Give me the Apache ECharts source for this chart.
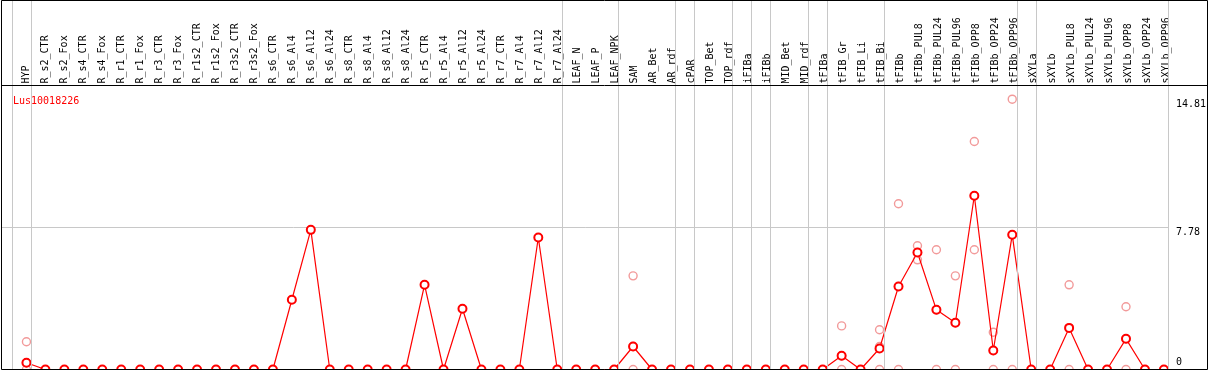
<!DOCTYPE html>
<html>
<head>
<meta charset="utf-8">
<script src="https://cdn.jsdelivr.net/npm/echarts@6/dist/echarts.min.js"></script>
<style>
html, body { margin: 0; padding: 0; background: #fff; }
#main { width: 1209px; height: 370px; }
</style>
</head>
<body>
<div id="main"></div>
<script>
// sample names (header, rotated)
var categories = ['HYP', 'R_s2_CTR', 'R_s2_Fox', 'R_s4_CTR', 'R_s4_Fox', 'R_r1_CTR', 'R_r1_Fox', 'R_r3_CTR', 'R_r3_Fox',
    'R_r1s2_CTR', 'R_r1s2_Fox', 'R_r3s2_CTR', 'R_r3s2_Fox', 'R_s6_CTR', 'R_s6_Al4', 'R_s6_Al12', 'R_s6_Al24',
    'R_s8_CTR', 'R_s8_Al4', 'R_s8_Al12', 'R_s8_Al24', 'R_r5_CTR', 'R_r5_Al4', 'R_r5_Al12', 'R_r5_Al24',
    'R_r7_CTR', 'R_r7_Al4', 'R_r7_Al12', 'R_r7_Al24', 'LEAF_N', 'LEAF_P', 'LEAF_NPK', 'SAM', 'AR_Bet', 'AR_rdf',
    'cPAR', 'TOP_Bet', 'TOP_rdf', 'iFIBa', 'iFIBb', 'MID_Bet', 'MID_rdf', 'tFIBa', 'tFIB_Gr', 'tFIB_Li', 'tFIB_Bi',
    'tFIBb', 'tFIBb_PUL8', 'tFIBb_PUL24', 'tFIBb_PUL96', 'tFIBb_OPP8', 'tFIBb_OPP24', 'tFIBb_OPP96',
    'sXYLa', 'sXYLb', 'sXYLb_PUL8', 'sXYLb_PUL24', 'sXYLb_PUL96', 'sXYLb_OPP8', 'sXYLb_OPP24', 'sXYLb_OPP96'];

// median expression (red line)
var median = [0.37, 0, 0, 0, 0, 0, 0, 0, 0, 0, 0, 0, 0, 0, 3.82, 7.65, 0,
    0, 0, 0, 0, 4.64, 0, 3.33, 0, 0, 0, 7.23, 0, 0, 0, 0, 1.26, 0, 0,
    0, 0, 0, 0, 0, 0, 0, 0, 0.75, 0, 1.15,
    4.55, 6.41, 3.27, 2.56, 9.52, 1.04, 7.38,
    0, 0, 2.28, 0, 0, 1.68, 0, 0];

// replicates (pale circles), null = none
var rep1 = [1.52, null, null, null, null, null, null, null, null, null, null, null, null, null, null, null, null,
    null, null, null, null, null, null, null, null, null, null, null, null, null, null, null, 5.13, null, null,
    null, null, null, null, null, null, null, null, 2.39, null, 2.18,
    9.08, 6.78, 6.56, 5.13, 12.49, 2.04, 14.81,
    null, null, 4.64, null, null, 3.44, null, null];
var rep2 = [0.37, null, null, null, null, null, null, null, null, null, null, null, null, null, null, null, null,
    null, null, null, null, null, null, null, null, null, null, null, null, null, null, null, 1.26, null, null,
    null, null, null, null, null, null, null, null, 0.75, null, 1.26,
    4.55, 6.41, 3.27, 2.56, 9.52, 1.04, 7.38,
    null, null, 2.28, null, null, 1.68, null, null];
var rep3 = [0, null, null, null, null, null, null, null, null, null, null, null, null, null, null, null, null,
    null, null, null, null, null, null, null, null, null, null, null, null, null, null, null, 0, null, null,
    null, null, null, null, null, null, null, null, 0, null, 0,
    0, 6.01, 0, 0, 6.56, 0, 0,
    null, null, 0, null, null, 0, null, null];

var yLabels = [7.78, 14.81];
var yStep = 7.78;
// last sample of each tissue group (gray separators)
var groupEnds = [-1, 0, 28, 31, 34, 35, 37, 38, 39, 41, 42, 45, 52, 53, 60];
var geneName = 'Lus10018226';

// layout
var colW = 19;
var plotLeft = 1.5, firstX = 26.5, plotRight = 1171.5;
var headerY = 85.5, zeroY = 369.5;
var xMin = -(firstX - plotLeft) / colW;
var xMax = xMin + (plotRight - plotLeft) / colW;
var yMax = 2 * yStep * zeroY / (zeroY - headerY);

var mono = 'DejaVu Sans Mono';

function pairs(arr) {
    var out = [];
    arr.forEach(function (v, i) { if (v !== null) out.push([i, v]); });
    return out;
}
function repSeries(arr) {
    return {
        type: 'scatter',
        xAxisIndex: 0, yAxisIndex: 0,
        data: pairs(arr),
        symbol: 'circle',
        symbolSize: 8,
        silent: true,
        z: 2,
        itemStyle: { color: 'rgba(255,255,255,0)', borderColor: '#f29a9a', borderWidth: 1.4, opacity: 1 }
    };
}

var myChart = echarts.init(document.getElementById('main'));
var option = {
    animation: false,
    backgroundColor: '#fff',
    title: {
        text: geneName, left: 8, top: 91,
        textStyle: { color: '#ff0000', fontSize: 10, fontWeight: 'normal', fontFamily: mono }
    },
    grid: [
        { left: plotLeft, right: 1209 - plotRight, top: 0, bottom: 370 - zeroY },
        { left: firstX - colW / 2, width: categories.length * colW, top: headerY, bottom: 370 - zeroY }
    ],
    xAxis: [
        {
            type: 'value', gridIndex: 0, min: xMin, max: xMax,
            axisLine: { show: false }, axisTick: { show: false }, axisLabel: { show: false }, splitLine: { show: false }
        },
        {
            type: 'category', gridIndex: 1, position: 'top', data: categories, boundaryGap: true,
            axisLine: { show: false }, axisTick: { show: false }, splitLine: { show: false },
            axisLabel: { interval: 0, rotate: 90, margin: 2, fontSize: 10, fontFamily: mono, color: '#000' }
        }
    ],
    yAxis: [
        {
            type: 'value', gridIndex: 0, position: 'right', min: 0, max: yMax, interval: yStep,
            axisLine: { show: false },
            axisTick: { show: true, customValues: [yStep], length: 8, lineStyle: { color: '#c8c8c8' } },
            splitLine: { show: true, lineStyle: { color: '#c8c8c8', width: 1 } },
            axisLabel: {
                customValues: yLabels, margin: 7, fontSize: 10, fontFamily: mono, color: '#000',
                verticalAlign: 'top', formatter: function (v) { return String(v); }
            }
        },
        {
            type: 'value', gridIndex: 0, position: 'right', min: 0, max: yMax, interval: yStep,
            axisLine: { show: false }, axisTick: { show: false }, splitLine: { show: false },
            axisLabel: {
                customValues: [0], margin: 7, fontSize: 10, fontFamily: mono, color: '#000',
                verticalAlign: 'bottom', padding: [0, 0, 2, 0]
            }
        },
        {
            type: 'value', gridIndex: 1, show: false
        }
    ],
    series: [
        repSeries(rep1),
        repSeries(rep2),
        repSeries(rep3),
        {
            type: 'line',
            xAxisIndex: 0, yAxisIndex: 0,
            data: pairs(median),
            symbol: 'emptyCircle',
            symbolSize: 8,
            showAllSymbol: true,
            silent: true,
            z: 3,
            lineStyle: { color: '#ff0000', width: 1.2 },
            itemStyle: { color: '#ff0000', borderWidth: 1.6 },
            markLine: {
                silent: true, symbol: 'none', animation: false,
                label: { show: false },
                lineStyle: { color: '#c8c8c8', width: 1, type: 'solid' },
                data: groupEnds.map(function (g) { return { xAxis: g + 0.24 }; })
            }
        }
    ],
    graphic: [
        {
            type: 'rect', z: 100, silent: true,
            shape: { x: 1.5, y: 0.5, width: 1206, height: 369 },
            style: { fill: null, stroke: '#000', lineWidth: 1 }
        },
        {
            type: 'line', z: 100, silent: true,
            shape: { x1: 1.5, y1: headerY, x2: 1207.5, y2: headerY },
            style: { stroke: '#000', lineWidth: 1 }
        }
    ]
};
myChart.setOption(option);
</script>
</body>
</html>
